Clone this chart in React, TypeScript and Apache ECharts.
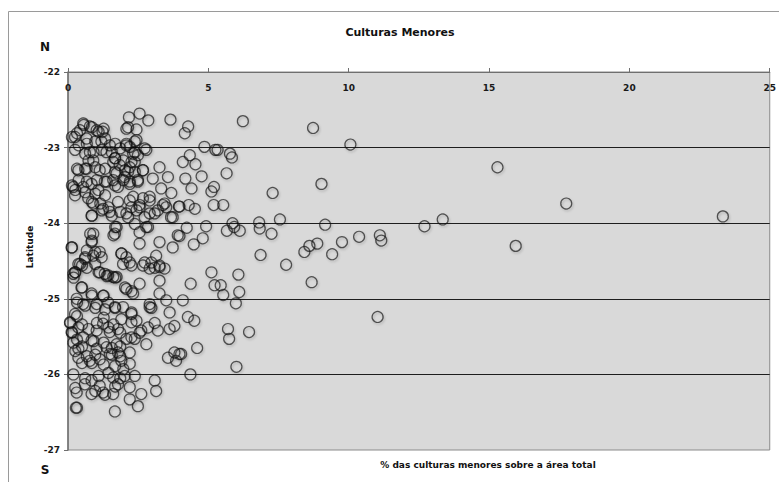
import React, { useEffect, useRef } from "react";
import * as echarts from "echarts";

const chartTitle = "Culturas Menores";
const xAxisTitle = "% das culturas menores sobre a área total";
const yAxisTitle = "Latitude";
const xTicks = [0, 5, 10, 15, 20, 25];
const yTicks = [-27, -26, -25, -24, -23, -22];

// [% minor crops, latitude]
const outliers: number[][] = [
  [6.23, -22.65], [8.73, -22.74], [10.06, -22.96], [9.03, -23.48], [7.29, -23.6], [7.55, -23.95],
  [6.81, -23.99], [6.83, -24.07], [7.25, -24.14], [9.16, -24.02], [12.7, -24.04], [11.11, -24.16],
  [11.16, -24.23], [10.37, -24.18], [9.76, -24.25], [8.88, -24.27], [8.6, -24.3], [8.42, -24.38],
  [9.41, -24.41], [6.86, -24.42], [7.77, -24.55], [8.68, -24.78], [11.03, -25.24], [6.07, -24.68],
  [5.11, -24.65], [5.22, -24.82], [5.44, -24.82], [5.53, -24.95], [6.1, -24.91], [5.98, -25.06],
  [4.37, -24.8], [4.09, -25.02], [4.27, -25.24], [4.5, -25.29], [5.7, -25.4], [5.74, -25.53],
  [6.45, -25.44], [4.6, -25.65], [4.03, -25.73], [6.0, -25.9], [4.36, -26.0], [4.28, -22.72],
  [4.16, -22.81], [4.86, -22.99], [5.25, -23.03], [5.33, -23.03], [5.77, -23.08], [5.84, -23.13],
  [4.34, -23.1], [4.09, -23.19], [4.54, -23.22], [5.65, -23.34], [4.76, -23.38], [4.18, -23.41],
  [5.2, -23.52], [4.4, -23.54], [5.11, -23.58], [5.19, -23.76], [5.53, -23.76], [4.3, -23.76],
  [4.52, -23.81], [3.97, -23.78], [5.86, -24.0], [5.92, -24.05], [5.66, -24.1], [6.12, -24.1],
  [4.92, -24.04], [4.23, -24.06], [4.8, -24.2], [4.48, -24.28], [3.97, -24.17], [15.3, -23.26],
  [17.75, -23.74], [23.33, -23.91], [13.35, -23.95], [15.95, -24.3],
];

const northCluster: number[][] = [
  [2.55, -22.55], [2.17, -22.6], [2.86, -22.64], [3.65, -22.63], [2.08, -22.75], [2.44, -22.76],
  [0.54, -22.68], [0.78, -22.72], [1.02, -22.77], [1.23, -22.79], [0.43, -22.77], [0.25, -22.86],
  [0.66, -22.88], [1.19, -22.92], [1.49, -22.97], [0.25, -23.03], [0.78, -23.06], [0.9, -23.17],
  [1.37, -23.06], [1.67, -23.14], [2.2, -22.99], [2.38, -23.06], [2.73, -23.01], [2.44, -22.9],
  [2.08, -22.97], [1.61, -23.19], [1.84, -23.23], [2.38, -23.19], [2.67, -23.3], [2.2, -23.26],
  [0.37, -23.3], [0.66, -23.28], [1.13, -23.3], [1.73, -23.34], [2.02, -23.39], [3.26, -23.26],
  [3.56, -23.39], [3.02, -23.41], [0.19, -23.52], [0.25, -23.63], [0.54, -23.52], [0.84, -23.48],
  [1.08, -23.56], [1.31, -23.45], [1.61, -23.43], [1.78, -23.52], [2.2, -23.48], [2.49, -23.43],
  [3.32, -23.54], [3.68, -23.6], [0.72, -23.67], [0.9, -23.74], [1.25, -23.81], [1.49, -23.85],
  [1.78, -23.72], [2.2, -23.7], [2.32, -23.65], [2.55, -23.79], [2.91, -23.65], [2.44, -23.83],
  [3.09, -23.87], [3.38, -23.76], [3.5, -23.79], [3.73, -23.92], [3.95, -23.78], [0.84, -23.9],
  [2.14, -23.92], [2.73, -23.92], [1.73, -24.05], [1.67, -24.14], [2.55, -24.12], [2.85, -24.05],
  [3.26, -24.25], [3.73, -24.32], [3.91, -24.16], [2.55, -24.27], [0.9, -24.14], [0.84, -24.25],
  [0.13, -24.32], [1.9, -24.4], [2.2, -24.52], [2.73, -24.52], [2.91, -24.6], [3.26, -24.56],
  [3.14, -24.43], [3.44, -24.6], [0.6, -24.47], [0.9, -24.43], [1.13, -24.38], [0.37, -24.54],
  [0.14, -22.86], [0.32, -22.81], [0.56, -22.7], [0.85, -22.73], [1.09, -22.79], [1.27, -22.75],
  [0.38, -22.97], [0.67, -22.95], [0.97, -22.92], [1.32, -22.88], [1.68, -22.95], [0.61, -23.08],
  [0.91, -23.06], [1.2, -23.03], [1.56, -23.06], [1.86, -23.01], [1.68, -23.14], [1.97, -23.17],
  [0.73, -23.17], [0.32, -23.28], [0.61, -23.28], [0.97, -23.26], [1.32, -23.28], [1.68, -23.32],
  [2.03, -23.3], [0.38, -23.43], [0.14, -23.5], [0.67, -23.45], [1.03, -23.43], [1.38, -23.45],
  [1.68, -23.5], [1.97, -23.43], [0.26, -23.56], [0.61, -23.59], [0.97, -23.61], [1.32, -23.63],
  [0.85, -23.72], [1.15, -23.74], [1.44, -23.79], [1.2, -23.83], [1.56, -23.9], [0.85, -23.9],
  [1.86, -23.85], [1.68, -24.05], [1.62, -24.16], [0.85, -24.23], [0.79, -24.14], [0.14, -24.32],
  [0.67, -24.36], [0.97, -24.38], [0.61, -24.45], [1.2, -24.45], [1.91, -24.4], [0.5, -24.56],
  [0.97, -24.54], [2.14, -22.73], [2.38, -22.92], [2.08, -22.95], [2.32, -23.08], [2.49, -23.1],
  [2.79, -23.03], [2.26, -23.19], [2.14, -23.32], [2.38, -23.32], [2.67, -23.3], [2.49, -23.45],
  [2.2, -23.45], [2.67, -23.67], [2.26, -23.79], [2.55, -23.76], [2.91, -23.7], [3.44, -23.74],
  [3.2, -23.83], [2.91, -23.87], [3.67, -23.92], [2.08, -23.87], [2.38, -24.01], [2.79, -24.05],
  [2.08, -24.45], [2.97, -24.52], [2.26, -24.56],
];

const southCluster: number[][] = [
  [0.25, -24.65], [1.31, -24.67], [1.61, -24.71], [0.19, -24.67], [0.43, -24.54], [1.13, -24.65],
  [1.43, -24.69], [1.73, -24.71], [1.96, -24.54], [2.67, -24.56], [3.26, -24.58], [2.55, -24.8],
  [2.08, -24.87], [2.32, -24.93], [3.26, -24.76], [0.48, -24.85], [0.84, -24.93], [1.25, -24.96],
  [0.31, -25.0], [0.54, -25.07], [1.02, -25.07], [1.43, -25.05], [1.67, -25.11], [1.96, -25.11],
  [2.26, -25.2], [2.91, -25.07], [3.26, -24.93], [3.5, -25.02], [3.62, -25.18], [2.91, -25.11],
  [0.07, -25.31], [0.25, -25.2], [0.37, -25.38], [0.13, -25.44], [0.54, -25.51], [0.84, -25.55],
  [1.02, -25.42], [1.25, -25.33], [1.49, -25.44], [1.78, -25.4], [1.9, -25.27], [2.26, -25.31],
  [2.44, -25.29], [2.61, -25.42], [2.85, -25.38], [3.2, -25.42], [3.62, -25.4], [3.79, -25.36],
  [2.38, -25.53], [2.79, -25.6], [2.08, -25.53], [1.73, -25.6], [1.37, -25.64], [1.02, -25.66],
  [0.37, -25.66], [0.19, -25.58], [0.37, -25.78], [0.78, -25.82], [1.13, -25.8], [1.49, -25.73],
  [1.78, -25.71], [1.9, -25.82], [2.2, -25.71], [2.2, -25.86], [3.56, -25.78], [3.79, -25.71],
  [3.97, -25.73], [3.85, -25.82], [0.19, -26.0], [0.6, -26.13], [0.84, -26.08], [1.13, -26.15],
  [1.61, -26.04], [1.78, -26.13], [2.02, -26.02], [2.38, -26.02], [0.31, -26.24], [0.84, -26.26],
  [1.25, -26.24], [1.61, -26.26], [2.2, -26.17], [2.61, -26.26], [3.09, -26.08], [3.14, -26.22],
  [0.28, -26.44], [1.67, -26.49], [2.2, -26.33], [2.49, -26.42], [0.26, -24.65], [0.2, -24.72],
  [0.67, -24.59], [1.09, -24.65], [1.38, -24.7], [1.68, -24.72], [2.03, -24.85], [0.5, -24.85],
  [0.85, -24.96], [1.27, -24.96], [0.32, -25.05], [0.61, -25.09], [0.97, -25.12], [1.32, -25.14],
  [1.68, -25.12], [0.08, -25.32], [0.32, -25.23], [0.5, -25.34], [0.73, -25.4], [0.14, -25.45],
  [1.03, -25.32], [1.27, -25.25], [1.44, -25.38], [1.62, -25.34], [1.86, -25.45], [0.32, -25.54],
  [0.91, -25.56], [0.5, -25.63], [1.27, -25.58], [1.56, -25.65], [1.86, -25.63], [0.26, -25.69],
  [0.67, -25.76], [0.97, -25.74], [1.56, -25.74], [1.86, -25.76], [0.5, -25.85], [0.85, -25.85],
  [1.27, -25.87], [1.68, -25.89], [1.97, -25.93], [1.44, -25.98], [1.09, -26.02], [0.61, -26.05],
  [1.86, -26.05], [1.68, -26.16], [0.97, -26.22], [0.26, -26.18], [1.32, -26.27], [0.32, -26.44],
  [3.09, -24.59], [2.26, -24.9], [2.97, -25.12], [2.26, -25.18], [3.09, -25.32], [2.55, -25.45],
  [2.26, -25.51],
];

const FONT = "'DejaVu Sans', Verdana, sans-serif";

export default function App() {
  const ref = useRef<HTMLDivElement>(null);
  useEffect(() => {
    if (!ref.current) return;
    const chart = echarts.init(ref.current, null, { renderer: "svg" });
    const points = [...northCluster, ...southCluster, ...outliers];
    chart.setOption({
      animation: false,
      backgroundColor: "#ffffff",
      grid: {
        left: 68,
        top: 72,
        right: 6,
        bottom: 32,
        show: true,
        backgroundColor: "#d9d9d9",
        borderColor: "#8a8a8a",
        borderWidth: 1,
      },
      xAxis: {
        type: "value",
        position: "top",
        min: xTicks[0],
        max: xTicks[xTicks.length - 1],
        interval: 5,
        axisLine: { show: true, onZero: false, lineStyle: { color: "#6f6f6f", width: 1 } },
        axisTick: { show: true, inside: false, length: 4, lineStyle: { color: "#6f6f6f" } },
        axisLabel: {
          inside: true,
          margin: 11,
          fontFamily: FONT,
          fontWeight: "bold",
          fontSize: 9,
          color: "#1a1a1a",
        },
        splitLine: { show: false },
      },
      yAxis: {
        type: "value",
        min: yTicks[0],
        max: yTicks[yTicks.length - 1],
        interval: 1,
        axisLine: { show: true, onZero: false, lineStyle: { color: "#6f6f6f", width: 1.5 } },
        axisTick: { show: true, inside: false, length: 4, lineStyle: { color: "#6f6f6f" } },
        axisLabel: {
          margin: 8,
          fontFamily: FONT,
          fontWeight: "bold",
          fontSize: 9,
          color: "#1a1a1a",
        },
        splitLine: {
          show: true,
          showMinLine: false,
          showMaxLine: false,
          lineStyle: { color: "#1e1e1e", width: 1 },
        },
      },
      series: [
        {
          type: "scatter",
          data: points,
          symbol: "circle",
          symbolSize: 11,
          itemStyle: {
            color: "rgba(0,0,0,0)",
            borderColor: "rgba(15,15,15,0.85)",
            borderWidth: 1.2,
            shadowBlur: 2,
            shadowOffsetX: 1,
            shadowOffsetY: 1.5,
            shadowColor: "rgba(0,0,0,0.3)",
          },
        },
      ],
      graphic: [
        {
          type: "polyline",
          shape: { points: [[8.5, 482], [8.5, 11.5], [779, 11.5]] },
          style: { stroke: "#9a9a9a", lineWidth: 1, fill: "none" },
        },
        {
          type: "text",
          x: 400,
          y: 32,
          style: {
            text: chartTitle,
            font: `bold 11px ${FONT}`,
            fill: "#111",
            align: "center",
            verticalAlign: "middle",
          },
        },
        {
          type: "text",
          x: 45,
          y: 47,
          style: { text: "N", font: `bold 12px ${FONT}`, fill: "#111", align: "center", verticalAlign: "middle" },
        },
        {
          type: "text",
          x: 45,
          y: 470,
          style: { text: "S", font: `bold 12px ${FONT}`, fill: "#111", align: "center", verticalAlign: "middle" },
        },
        {
          type: "text",
          x: 30,
          y: 247,
          rotation: Math.PI / 2,
          style: {
            text: yAxisTitle,
            font: `bold 9px ${FONT}`,
            fill: "#111",
            align: "center",
            verticalAlign: "middle",
          },
        },
        {
          type: "text",
          x: 488,
          y: 465,
          style: {
            text: xAxisTitle,
            font: `bold 9px ${FONT}`,
            fill: "#111",
            align: "center",
            verticalAlign: "middle",
          },
        },
      ],
    });
    return () => chart.dispose();
  }, []);
  return (
    <div
      ref={ref}
      style={{ position: "fixed", left: 0, top: 0, width: 779, height: 482, background: "#fff" }}
    />
  );
}
